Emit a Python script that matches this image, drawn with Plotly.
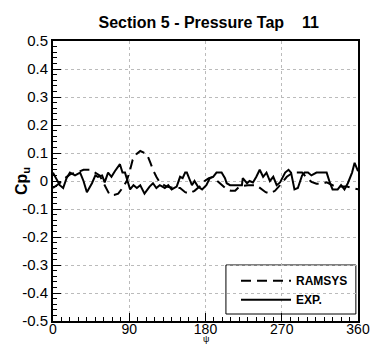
import plotly.graph_objects as go

exp_psi = [0, 3, 8, 12, 16, 20, 26, 32, 36, 40, 46, 50, 53, 58, 61, 65, 69, 73, 79, 82, 85, 87, 91, 95, 99, 103,
           108, 114, 118, 122, 126, 132, 136, 140, 146, 150, 153, 156, 158, 162, 164, 167, 171, 176, 181, 185, 189,
           193, 199, 203, 205, 209, 216, 223, 224, 229, 232, 236, 240, 244, 248, 252, 256, 260, 264, 268, 274, 278,
           281, 285, 289, 294, 297, 301, 305, 311, 317, 323, 327, 330, 336, 340, 344, 348, 353, 356, 360]
exp_cp = [0.03, 0.015, -0.015, -0.025, 0.01, 0.03, 0.02, 0.03, 0.0, -0.04, -0.008, 0.02, 0.015, 0.02, -0.005, 0.03,
          0.015, 0.035, 0.06, 0.03, 0.03, 0.01, -0.03, -0.015, -0.025, -0.015, -0.045, -0.02, -0.008, -0.025, -0.015,
          -0.025, -0.015, -0.03, -0.02, 0.015, 0.01, 0.03, 0.03, 0.0, -0.015, 0.0, -0.02, -0.03, -0.015, 0.01, 0.015,
          0.03, 0.03, 0.01, -0.008, -0.015, -0.015, -0.015, 0.01, -0.008, 0.0, -0.005, 0.015, 0.04, 0.015, 0.03, 0.0,
          0.015, -0.015, -0.005, 0.03, 0.04, 0.03, -0.03, -0.025, 0.02, 0.03, 0.03, 0.02, 0.03, 0.03, 0.03, -0.008,
          -0.03, -0.03, -0.015, -0.03, -0.008, 0.03, 0.065, 0.035]

ram_psi = [0, 7, 14, 21, 28, 36, 44, 50, 55, 61, 67, 72, 77, 82, 87, 91, 94, 98, 103, 108, 111, 115, 118, 122, 126,
           134, 142, 150, 156, 161, 167, 173, 179, 184, 189, 194, 199, 205, 210, 215, 220, 230, 240, 246, 251, 256,
           262, 268, 276, 283, 290, 294, 300, 305, 311, 317, 323, 330, 340, 347, 353, 358, 360]
ram_cp = [-0.025, -0.01, 0.01, 0.025, 0.03, 0.04, 0.04, 0.03, 0.02, -0.015, -0.05, -0.05, -0.045, -0.025, 0.0, 0.04,
          0.075, 0.095, 0.107, 0.1, 0.095, 0.065, 0.04, 0.015, -0.005, -0.02, -0.025, -0.025, -0.04, -0.045, -0.035,
          -0.02, 0.0, 0.01, 0.015, 0.0, -0.015, -0.03, -0.035, -0.035, -0.02, -0.015, -0.015, -0.03, -0.04, -0.045,
          -0.035, -0.015, 0.015, 0.03, 0.03, 0.03, 0.01, -0.003, -0.01, -0.01, -0.005, -0.015, -0.02, -0.02, -0.025,
          -0.03, -0.03]

x_ticks = [0, 90, 180, 270, 360]
y_ticks = [0.5, 0.4, 0.3, 0.2, 0.1, 0, -0.1, -0.2, -0.3, -0.4, -0.5]
y_labels = ["0.5", "0.4", "0.3", "0.2", "0.1", "0", "-0.1", "-0.2", "-0.3", "-0.4", "-0.5"]

FONT = "Liberation Sans, Arial, Helvetica, sans-serif"

fig = go.Figure()
fig.add_trace(go.Scatter(x=ram_psi, y=ram_cp, mode="lines", name="RAMSYS",
                         line=dict(color="black", width=2, dash="10px,6px")))
fig.add_trace(go.Scatter(x=exp_psi, y=exp_cp, mode="lines", name="EXP.",
                         line=dict(color="black", width=2)))

axis_common = dict(showline=True, linecolor="black", linewidth=2, mirror=True,
                   ticks="inside", ticklen=8, tickwidth=1, tickcolor="black",
                   showgrid=True, gridcolor="#bbbbbb", gridwidth=1, griddash="dot",
                   zeroline=False, automargin=False)

fig.update_xaxes(range=[0, 360], tickvals=x_ticks, ticktext=[str(v) for v in x_ticks],
                 ticklabelstandoff=-6, tickfont=dict(family=FONT, size=14, color="black"),
                 minor=dict(dtick=10, tick0=0, ticks="inside", ticklen=4, tickcolor="black", showgrid=False),
                 **axis_common)
fig.update_yaxes(range=[-0.5, 0.5], tickvals=y_ticks, ticktext=y_labels,
                 tickfont=dict(family=FONT, size=15, color="black"),
                 minor=dict(dtick=0.02, tick0=0, ticks="inside", ticklen=4, tickcolor="black", showgrid=False),
                 **axis_common)

fig.update_layout(
    width=376, height=345,
    margin=dict(l=53, r=18, t=41, b=24),
    paper_bgcolor="white", plot_bgcolor="white",
    showlegend=True,
    legend=dict(x=0.6, y=0.11, xanchor="left", yanchor="middle",
                bgcolor="rgba(0,0,0,0)", borderwidth=0, itemwidth=50, tracegroupgap=0,
                font=dict(family=FONT, size=12, color="black", weight="bold")),
    title=dict(text="Section 5 - Pressure Tap\u00a0\u00a0\u00a0\u00a011", x=0.555, xanchor="center",
               y=1 - 22 / 345, yanchor="middle",
               font=dict(family=FONT, size=16, color="black", weight="bold")),
    shapes=[dict(type="rect", xref="paper", yref="paper", x0=0.567, x1=0.993, y0=0.025, y1=0.2,
                 line=dict(color="black", width=1), fillcolor="white", layer="below")],
    annotations=[
        dict(text="Cp<sub>u</sub>", xref="paper", yref="paper", x=-31 / 305, y=0.5, textangle=-90,
             showarrow=False, xanchor="center", yanchor="middle",
             font=dict(family=FONT, size=16, color="black", weight="bold")),
        dict(text="ψ", xref="paper", yref="paper", x=0.5, y=-24 / 280, showarrow=False,
             xanchor="center", yanchor="bottom", borderpad=0,
             font=dict(family=FONT, size=9, color="black")),
    ],
)

fig.write_html("out.html")
